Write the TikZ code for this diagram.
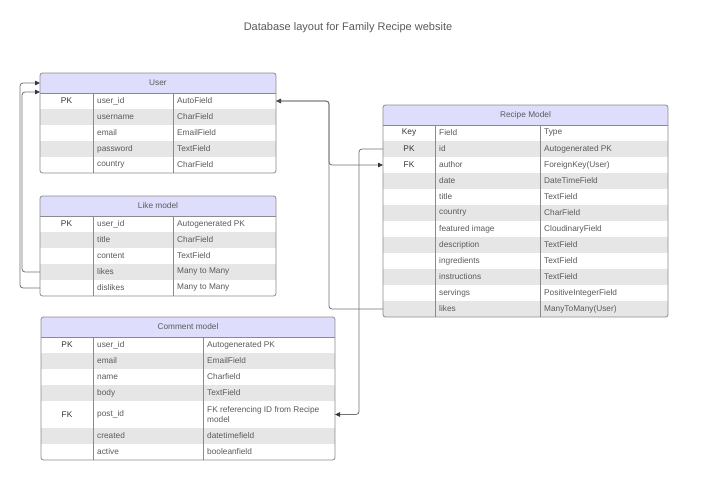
\documentclass[tikz,border=0pt]{standalone}
\usepackage{fontspec}
\setmainfont{Liberation Sans}
\usetikzlibrary{arrows.meta}
\definecolor{hdrfill}{HTML}{DEDEFC}
\definecolor{stripe}{HTML}{E6E6E6}
\definecolor{bordc}{HTML}{8A8A8A}
\definecolor{txtc}{HTML}{5A5A5A}
\definecolor{keyc}{HTML}{333333}
\definecolor{linec}{HTML}{707070}
\definecolor{arrc}{HTML}{333A45}
\tikzset{
  rowbox/.style={draw=none, inner sep=0pt, outer sep=0pt, anchor=north west},
  hdrbox/.style={rowbox, fill=hdrfill, font=\fontsize{8.3}{10}\selectfont, text=txtc},
  keytxt/.style={font=\fontsize{8.3}{10}\selectfont, text=keyc, inner sep=0pt},
  celltxt/.style={font=\fontsize{8.3}{10}\selectfont, text=txtc, inner sep=0pt, anchor=west, align=left},
  tblborder/.style={draw=bordc, line width=0.8pt, rounded corners=2.5pt},
  colline/.style={draw=bordc, line width=0.6pt},
  conn/.style={draw=linec, line width=0.8pt, rounded corners=3pt},
  tipend/.style={-{Triangle[length=5pt,width=4.5pt,color=arrc]}},
  titletxt/.style={font=\fontsize{11}{13}\selectfont, text=txtc}
}
\newcommand{\tblhead}[3]{%
  \node[hdrbox, minimum width={\Xd pt-\Xa pt}, minimum height=20pt] (#1) at (\Xa,#2) {#3};}
\newcommand{\dbrow}[7]{%
  \node[rowbox, fill=#2, minimum width={\Xd pt-\Xa pt}, minimum height={#4pt-#3pt}] (#1) at (\Xa,#3) {};
  \node[keytxt] (#1-k) at ({(\Xa+\Xb)/2},{(#3+#4)/2}) {#5};
  \node[celltxt] (#1-f) at ({\Xb+4},{(#3+#4)/2}) {#6};
  \node[celltxt] (#1-t) at ({\Xc+4},{(#3+#4)/2}) {#7};}
\newcommand{\tblframe}[3]{%
  \draw[colline] (\Xb,#2) -- (\Xb,#3) (\Xc,#2) -- (\Xc,#3) (\Xa,#2) -- (\Xd,#2);
  \draw[tblborder] (\Xa,#1) rectangle (\Xd,#3);}
\begin{document}
\begin{tikzpicture}[x=1pt,y=-1pt]
\useasboundingbox (0,0) rectangle (705,482);
\node[titletxt] (title) at (348,28) {Database layout for Family Recipe website};

% ---------- User ----------
\def\Xa{40}\def\Xb{93}\def\Xc{173}\def\Xd{276}
\begin{scope}
\clip[rounded corners=2.5pt] (\Xa,73) rectangle (\Xd,173);
\tblhead{uhdr}{73}{User}
\dbrow{uid}{white}{93}{109}{PK}{user\_id}{AutoField}
\dbrow{uname}{stripe}{109}{125}{}{username}{CharField}
\dbrow{uemail}{white}{125}{141}{}{email}{EmailField}
\dbrow{upass}{stripe}{141}{157}{}{password}{TextField}
\dbrow{ucountry}{white}{157}{173}{}{country}{CharField}
\end{scope}
\tblframe{73}{93}{173}

% ---------- Like model ----------
\def\Xa{40}\def\Xb{93}\def\Xc{173}\def\Xd{276}
\begin{scope}
\clip[rounded corners=2.5pt] (\Xa,196) rectangle (\Xd,296);
\tblhead{lhdr}{196}{Like model}
\dbrow{lid}{white}{216}{232}{PK}{user\_id}{Autogenerated PK}
\dbrow{ltitle}{stripe}{232}{248}{}{title}{CharField}
\dbrow{lcontent}{white}{248}{264}{}{content}{TextField}
\dbrow{llikes}{stripe}{264}{280}{}{likes}{Many to Many}
\dbrow{ldislikes}{white}{280}{296}{}{dislikes}{Many to Many}
\end{scope}
\tblframe{196}{216}{296}

% ---------- Comment model ----------
\def\Xa{41}\def\Xb{93}\def\Xc{203}\def\Xd{335}
\begin{scope}
\clip[rounded corners=2.5pt] (\Xa,317) rectangle (\Xd,460);
\tblhead{chdr}{317}{Comment model}
\dbrow{cid}{white}{337}{353}{PK}{user\_id}{Autogenerated PK}
\dbrow{cemail}{stripe}{353}{369}{}{email}{EmailField}
\dbrow{cname}{white}{369}{385}{}{name}{Charfield}
\dbrow{cbody}{stripe}{385}{401}{}{body}{TextField}
\dbrow{cpost}{white}{401}{428}{FK}{post\_id}{FK referencing ID from Recipe\\model}
\dbrow{ccreated}{stripe}{428}{444}{}{created}{datetimefield}
\dbrow{cactive}{white}{444}{460}{}{active}{booleanfield}
\end{scope}
\tblframe{317}{337}{460}

% ---------- Recipe Model ----------
\def\Xa{383}\def\Xb{435}\def\Xc{540}\def\Xd{668}
\begin{scope}
\clip[rounded corners=2.5pt] (\Xa,105) rectangle (\Xd,317);
\tblhead{rhdr}{105}{Recipe Model}
\dbrow{rkey}{white}{125}{141}{Key}{Field}{Type}
\dbrow{rid}{stripe}{141}{157}{PK}{id}{Autogenerated PK}
\dbrow{rauthor}{white}{157}{173}{FK}{author}{ForeignKey(User)}
\dbrow{rdate}{stripe}{173}{189}{}{date}{DateTimeField}
\dbrow{rtitle}{white}{189}{205}{}{title}{TextField}
\dbrow{rcountry}{stripe}{205}{221}{}{country}{CharField}
\dbrow{rimage}{white}{221}{237}{}{featured image}{CloudinaryField}
\dbrow{rdesc}{stripe}{237}{253}{}{description}{TextField}
\dbrow{ringr}{white}{253}{269}{}{ingredients}{TextField}
\dbrow{rinstr}{stripe}{269}{285}{}{instructions}{TextField}
\dbrow{rserv}{white}{285}{301}{}{servings}{PositiveIntegerField}
\dbrow{rlikes}{stripe}{301}{317}{}{likes}{ManyToMany(User)}
\end{scope}
\tblframe{105}{125}{317}

% ---------- connectors ----------
\draw[conn, tipend] (rlikes.west) -- ++(-54,0) |- (uid.east);
\draw[conn, tipend] (uid.east) -- ++(53,0) |- (rauthor.west);
\draw[conn, tipend] (rid.west) -- ++(-24,0) |- (cpost.east);
\draw[conn, tipend] (llikes.west) -- ++(-18,0) |- ([yshift=-9pt]uhdr.west);
\draw[conn, tipend] (ldislikes.west) -- ++(-20,0) |- (uhdr.west);
\end{tikzpicture}
\end{document}
